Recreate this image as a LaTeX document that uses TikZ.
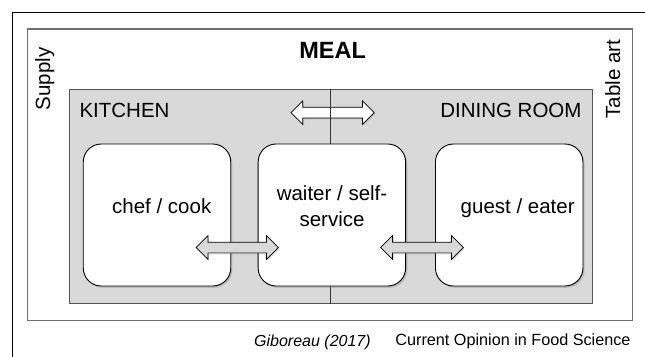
\documentclass[tikz,border=0pt]{standalone}
\usepackage{fontspec}
\setmainfont{Liberation Sans}
\usetikzlibrary{shapes.arrows,shadows}
\definecolor{bggray}{HTML}{D9D9D9}
\definecolor{framegray}{HTML}{6E6E6E}
\definecolor{edgegray}{HTML}{555555}
\begin{document}
\begin{tikzpicture}[x=1pt,y=-1pt,
  lbl/.style={font=\fontsize{20.5}{25.7}\selectfont, inner sep=0pt},
  small/.style={font=\fontsize{16.2}{19}\selectfont, inner sep=0pt},
  actor/.style={draw=black, line width=0.9pt, fill=white, rounded corners=18pt,
    minimum width=147.5pt, minimum height=142pt, inner sep=0pt,
    drop shadow={shadow xshift=1.6pt, shadow yshift=-1.8pt, opacity=0.35}},
  dblarrow/.style={double arrow, draw=black, line width=0.7pt,
    inner xsep=0pt, inner ysep=5pt, double arrow head extend=6.5pt,
    drop shadow={shadow xshift=1.2pt, shadow yshift=-1.4pt, opacity=0.3}}]
\useasboundingbox (0,0) rectangle (645,356);
% outer frame (partly outside the picture)
\coordinate (ofA) at (12,360);
\coordinate (ofB) at (12,12.7);
\coordinate (ofC) at (650,12.7);
\draw[black, line width=0.8pt] (ofA) -- (ofB) -- (ofC);
% meal frame
\draw[framegray, line width=1.2pt] (27.7,29) rectangle (632.3,320.5);
% grey area
\draw[edgegray, line width=0.8pt, fill=bggray] (69,89.3) rectangle (592.3,303.7);
% top arrow
\node[dblarrow, fill=white, minimum height=83.3pt] (topArrow) at (332.6,112.6) {};
% centre line
\coordinate (clTop) at (330,89.3);
\coordinate (clBot) at (330,303.7);
\draw[black!80, line width=0.8pt] (clTop) -- (clBot);
% actor boxes
\node[actor] (chef) at (157,215) {};
\node[actor] (waiter) at (331.9,215) {};
\node[actor] (guest) at (509.2,215) {};
% bottom arrows
\node[dblarrow, fill=bggray, minimum height=82.3pt] (arrowL) at (237.2,247.5) {};
\node[dblarrow, fill=bggray, minimum height=82.6pt] (arrowR) at (422,247.5) {};
% labels
\node[font=\fontsize{23.5}{28}\selectfont\bfseries, inner sep=0pt, anchor=base] (meal) at (332.7,58.3) {MEAL};
\node[lbl, anchor=base, rotate=90] (supply) at (50,79) {Supply};
\node[lbl, anchor=base, rotate=90] (tableart) at (620,79) {Table art};
\node[lbl, anchor=base west] (kitchen) at (79.3,117.3) {KITCHEN};
\node[lbl, anchor=base east] (dining) at (581.7,117.3) {DINING ROOM};
\node[lbl, anchor=base] (chefTxt) at (161.7,213.3) {chef / cook};
\node[lbl, anchor=center, align=center] (waiterTxt) at (332,206.3) {waiter / self-\\service};
\node[lbl, anchor=base] (guestTxt) at (517.7,213.3) {guest / eater};
\node[small, anchor=base west, font=\fontsize{16}{19}\selectfont\itshape] (cite) at (254,346) {Giboreau (2017)};
\node[small, anchor=base east] (journal) at (630.7,345.8) {Current Opinion in Food Science};
\end{tikzpicture}
\end{document}
